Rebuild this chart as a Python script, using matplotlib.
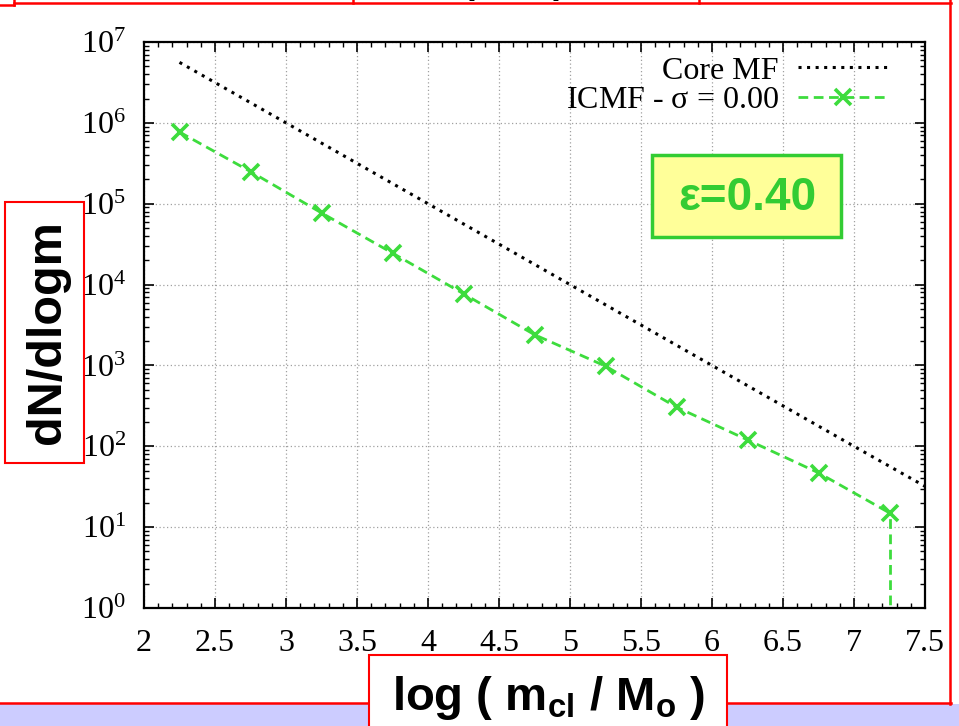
import numpy as np
import matplotlib
matplotlib.use('Agg')
import matplotlib.pyplot as plt
from matplotlib.patches import Rectangle
from matplotlib.lines import Line2D
from matplotlib.ticker import LogLocator, MultipleLocator, NullFormatter, FixedLocator, FixedFormatter

plt.rcParams['font.family'] = ['Liberation Serif', 'DejaVu Serif']
plt.rcParams['mathtext.fontset'] = 'custom'
plt.rcParams['mathtext.rm'] = 'Liberation Serif'

# Core mass function (slope -1 power law) and the ICMF for sigma = 0
core_x = [2.25, 3.0, 4.0, 5.0, 6.0, 7.0, 7.5]
core_y = [5.6e6, 1.0e6, 1.0e5, 1.0e4, 1.0e3, 1.0e2, 3.2e1]

icmf_x = [2.25, 2.75, 3.25, 3.75, 4.25, 4.75, 5.25, 5.75, 6.25, 6.75, 7.25]
icmf_y = [7.7e5, 2.5e5, 7.7e4, 2.45e4, 7.7e3, 2.4e3, 9.8e2, 3.05e2, 1.2e2, 4.7e1, 1.5e1]

x_ticks = [2, 2.5, 3, 3.5, 4, 4.5, 5, 5.5, 6, 6.5, 7, 7.5]
x_labels = ['2', '2.5', '3', '3.5', '4', '4.5', '5', '5.5', '6', '6.5', '7', '7.5']

W, H = 959, 726
green = '#3ddc3d'
red = '#ff0000'
sans = ['Liberation Sans', 'DejaVu Sans']


def fx(px):
    return px / W


def fy(py):
    return 1 - py / H


fig = plt.figure(figsize=(W / 100, H / 100), dpi=100)
ax = fig.add_axes([fx(144), fy(608), (925 - 144) / W, (608 - 42) / H])

ax.plot(core_x, core_y, color='black', lw=2.2, ls=(0, (1, 1.8)), label='Core MF')
ax.plot(icmf_x, icmf_y, color=green, lw=2.0, ls=(0, (3.5, 2)), marker='x',
        ms=12, mew=2.6, label=r'ICMF - $\mathdefault{\sigma}$ = 0.00')
# last bin drops to zero
ax.vlines(icmf_x[-1], 1e-3, icmf_y[-1], color=green, lw=2.0, ls=(0, (3.5, 2)))

ax.set_yscale('log')
ax.set_xlim(2, 7.5)
ax.set_ylim(1, 1e7)
ax.xaxis.set_major_locator(FixedLocator(x_ticks))
ax.xaxis.set_major_formatter(FixedFormatter(x_labels))
ax.xaxis.set_minor_locator(MultipleLocator(0.1))
ax.yaxis.set_major_locator(LogLocator(base=10, numticks=10))
ax.yaxis.set_minor_locator(LogLocator(base=10, subs=np.arange(2, 10), numticks=20))
ax.yaxis.set_minor_formatter(NullFormatter())

ax.grid(True, which='major', color='#a0a0a0', lw=0.9, ls=(0, (1, 2)))
ax.tick_params(which='both', direction='in', top=True, right=True, labelsize=23)
ax.tick_params(which='major', length=7, width=1.2)
ax.tick_params(which='minor', length=3.5, width=1.0)
ax.tick_params(axis='x', pad=15)
ax.tick_params(axis='y', pad=13)
for s in ax.spines.values():
    s.set_linewidth(1.6)

leg = ax.legend(loc='upper right', bbox_to_anchor=(0.952, 0.975), frameon=False,
                markerfirst=False, fontsize=23, handlelength=2.8, handletextpad=0.6,
                labelspacing=0.0, borderpad=0.0, borderaxespad=0.0, numpoints=1)

# epsilon label box
fig.add_artist(Rectangle((fx(652), fy(237)), (841 - 652) / W, (237 - 155) / H,
                         transform=fig.transFigure, facecolor='#ffff99',
                         edgecolor='#33cc33', lw=2.5, zorder=5))
fig.text(fx(747), fy(198), '\u03b5=0.40', ha='center', va='center', fontsize=33,
         fontweight='bold', color='#33cc33', family=sans, zorder=6)

# slide decorations: band, red outlines
fig.add_artist(Rectangle((0, 0), 1, (726 - 704) / H, transform=fig.transFigure,
                         facecolor='#ccccff', edgecolor='none', zorder=1))
red_lines = [
    ((14, 951), (3, 3)),
    ((950, 950), (0, 704)),
    ((0, 951), (703, 703)),
    ((0, 14), (5, 5)),
    ((14, 14), (0, 5)),
    ((353, 353), (0, 3)),
    ((699, 699), (0, 3)),
]
for xs, ys in red_lines:
    fig.add_artist(Line2D([fx(v) for v in xs], [fy(v) for v in ys],
                          transform=fig.transFigure, color=red, lw=1.8, zorder=4))

# bottom of the title box text, cut off by the top edge
for xp, ch, yb in [(383, '(', -9), (474, '/', 0), (558, '/', 0), (672, ')', -9)]:
    fig.text(fx(xp), fy(yb), ch, ha='center', va='baseline', fontsize=30,
             fontweight='bold', family=sans, zorder=6)

# y axis label box
fig.add_artist(Rectangle((fx(5), fy(463)), (84 - 5) / W, (463 - 202) / H,
                         transform=fig.transFigure, facecolor='white',
                         edgecolor=red, lw=1.5, zorder=5))
fig.text(fx(48), fy(332), 'dN/dlogm', rotation=90, ha='center', va='center',
         fontsize=35, fontweight='bold', family=sans, zorder=6)

# x axis label box
fig.add_artist(Rectangle((fx(369), fy(730)), (727 - 369) / W, (730 - 655) / H,
                         transform=fig.transFigure, facecolor='white',
                         edgecolor=red, lw=1.5, zorder=5))
fig.text(fx(549), fy(698), r'log ( m$_{\mathdefault{cl}}$ / M$_{\mathdefault{o}}$ )',
         ha='center', va='center', fontsize=34, fontweight='bold', family=sans, zorder=6)

fig.savefig('out.png', dpi=100)
